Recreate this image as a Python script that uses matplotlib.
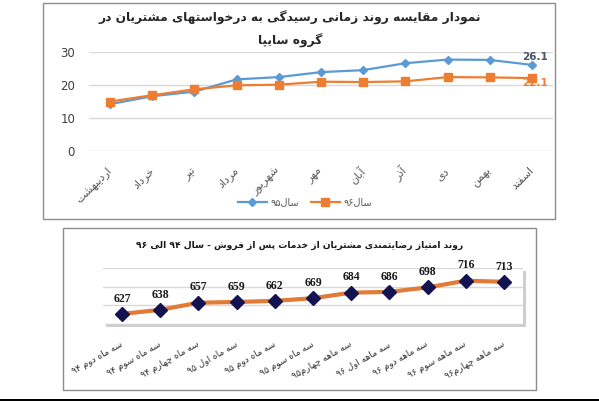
import re
import matplotlib
matplotlib.use('Agg')
import matplotlib.pyplot as plt
from matplotlib.patches import Rectangle
from matplotlib.lines import Line2D

# --- data ---------------------------------------------------------------
months = ['اردیبهشت', 'خرداد', 'تیر', 'مرداد', 'شهریور', 'مهر',
          'آبان', 'آذر', 'دی', 'بهمن', 'اسفند']
sal95 = [14.2, 16.6, 18.0, 21.7, 22.4, 23.9, 24.5, 26.6, 27.7, 27.6, 26.1]
sal96 = [15.0, 16.9, 18.7, 19.9, 20.1, 21.0, 20.9, 21.1, 22.4, 22.3, 22.1]

quarters = ['سه ماه دوم ۹۴', 'سه ماه سوم ۹۴', 'سه ماه چهارم ۹۴',
            'سه ماه اول ۹۵', 'سه ماه دوم ۹۵', 'سه ماه سوم ۹۵',
            'سه ماهه چهارم۹۵', 'سه ماهه اول ۹۶', 'سه ماهه دوم ۹۶',
            'سه ماهه سوم ۹۶', 'سه ماهه چهارم۹۶']
scores = [627, 638, 657, 659, 662, 669, 684, 686, 698, 716, 713]

title_top = ['نمودار مقایسه روند زمانی رسیدگی به درخواستهای مشتریان در',
             'گروه سایپا']
title_bottom = 'روند امتیاز رضایتمندی مشتریان از خدمات پس از فروش - سال ۹۴ الی ۹۶'
legend_labels = ['سال۹۵', 'سال۹۶']

# --- simple arabic/persian shaping (matplotlib has no shaping engine) ---
# letter -> (isolated form code point, number of forms)
_FORMS = {'ء': (0xFE80, 1), 'آ': (0xFE81, 2), 'أ': (0xFE83, 2), 'ؤ': (0xFE85, 2),
          'إ': (0xFE87, 2), 'ئ': (0xFE89, 4), 'ا': (0xFE8D, 2), 'ب': (0xFE8F, 4),
          'ة': (0xFE93, 2), 'ت': (0xFE95, 4), 'ث': (0xFE99, 4), 'ج': (0xFE9D, 4),
          'ح': (0xFEA1, 4), 'خ': (0xFEA5, 4), 'د': (0xFEA9, 2), 'ذ': (0xFEAB, 2),
          'ر': (0xFEAD, 2), 'ز': (0xFEAF, 2), 'س': (0xFEB1, 4), 'ش': (0xFEB5, 4),
          'ص': (0xFEB9, 4), 'ض': (0xFEBD, 4), 'ط': (0xFEC1, 4), 'ظ': (0xFEC5, 4),
          'ع': (0xFEC9, 4), 'غ': (0xFECD, 4), 'ف': (0xFED1, 4), 'ق': (0xFED5, 4),
          'ك': (0xFED9, 4), 'ل': (0xFEDD, 4), 'م': (0xFEE1, 4), 'ن': (0xFEE5, 4),
          'ه': (0xFEE9, 4), 'و': (0xFEED, 2), 'ى': (0xFEEF, 2), 'ي': (0xFEF1, 4),
          'پ': (0xFB56, 4), 'چ': (0xFB7A, 4), 'ژ': (0xFB8A, 2), 'ک': (0xFB8E, 4),
          'گ': (0xFB92, 4), 'ی': (0xFBFC, 4)}
_LAMALEF = {'آ': 0xFEF5, 'أ': 0xFEF7, 'إ': 0xFEF9, 'ا': 0xFEFB}


def _nforms(c):
    return _FORMS[c][1] if c in _FORMS else 0


def shape(word):
    out = []
    i = 0
    n = len(word)
    while i < n:
        c = word[i]
        if c not in _FORMS:
            if c != '\u200c':
                out.append(c)
            i += 1
            continue
        prev = word[i - 1] if i > 0 else ''
        joins_prev = _nforms(prev) == 4
        if c == 'ل' and i + 1 < n and word[i + 1] in _LAMALEF:
            base = _LAMALEF[word[i + 1]]
            out.append(chr(base + 1 if joins_prev else base))
            i += 2
            continue
        nxt = word[i + 1] if i + 1 < n else ''
        base, k = _FORMS[c]
        joins_next = k == 4 and _nforms(nxt) >= 2
        joins_prev = joins_prev and k >= 2
        if joins_prev and joins_next:
            out.append(chr(base + 3))
        elif joins_prev:
            out.append(chr(base + 1))
        elif joins_next:
            out.append(chr(base + 2))
        else:
            out.append(chr(base))
        i += 1
    return ''.join(out)


def rtl(text):
    s = shape(text)
    parts = re.findall(r'[0-9\u06F0-\u06F9.]+|[^0-9\u06F0-\u06F9.]+', s)
    parts = [p if re.match(r'[0-9\u06F0-\u06F9.]', p) else p[::-1] for p in parts]
    return ''.join(parts[::-1])


W, H = 599, 401


def fx(px):
    return px / W


def fy(py):
    return 1 - py / H


fig = plt.figure(figsize=(5.99, 4.01), dpi=100)
fig.patch.set_facecolor('white')

# frames
fig.patches.append(Rectangle((fx(43), fy(219)), fx(555) - fx(43), fy(3) - fy(219),
                             transform=fig.transFigure, fill=False,
                             edgecolor='#8c8c8c', lw=1))
fig.patches.append(Rectangle((fx(63), fy(390)), fx(536) - fx(63), fy(228) - fy(390),
                             transform=fig.transFigure, fill=False,
                             edgecolor='#8c8c8c', lw=1))
fig.patches.append(Rectangle((0, 0), 1, fy(399), transform=fig.transFigure,
                             color='black', lw=0))
# shadow of lower plot area
fig.patches.append(Rectangle((fx(105.5), fy(327)), fx(523) - fx(103), fy(268) - fy(324),
                             transform=fig.transFigure, color='#cfcfcf', lw=0,
                             zorder=-1))

# --- top chart ----------------------------------------------------------
gray = '#595959'
ax1 = fig.add_axes([fx(89), fy(151), fx(553) - fx(89), fy(52) - fy(151)])
x = list(range(len(months)))
ax1.plot(x, sal95, color='#5b9bd5', marker='D', ms=4, lw=1.6)
ax1.plot(x, sal96, color='#ed7d31', marker='s', ms=5.5, lw=1.6)
ax1.set_xlim(-0.5, len(months) - 0.5)
ax1.set_ylim(0, 30)
ax1.set_yticks([0, 10, 20, 30])
ax1.set_xticks(x)
ax1.set_xticklabels([rtl(m) for m in months], rotation=45, ha='right',
                    va='center', rotation_mode='anchor', fontsize=8, color=gray)
ax1.tick_params(axis='y', length=0, pad=10, labelsize=8.5, labelcolor='#404040')
ax1.tick_params(axis='x', length=0, pad=13)
ax1.grid(axis='y', color='#d9d9d9', lw=1)
ax1.set_axisbelow(True)
for sp in ax1.spines.values():
    sp.set_visible(False)
ax1.patch.set_alpha(0)

ax1.annotate(f'{sal95[-1]}', (x[-1], sal95[-1]), xytext=(2, 6),
             textcoords='offset points', ha='center', va='center',
             fontsize=7.5, fontweight='bold', color='#44546a')
ax1.annotate(f'{sal96[-1]}', (x[-1], sal96[-1]), xytext=(2, -3.5),
             textcoords='offset points', ha='center', va='center',
             fontsize=7.5, fontweight='bold', color='#ed7d31')

for i, line in enumerate(title_top):
    fig.text(fx(290), fy(18 + 23 * i), rtl(line), ha='center', va='center',
             fontsize=8.8, fontweight='bold', color='#262626')

handles = [Line2D([], [], color='#5b9bd5', marker='D', ms=4, lw=1.6),
           Line2D([], [], color='#ed7d31', marker='s', ms=5.5, lw=1.6)]
fig.legend(handles, [rtl(t) for t in legend_labels], loc='center',
           bbox_to_anchor=(fx(305), fy(202)), ncol=2, frameon=False,
           fontsize=7, labelcolor=gray, handlelength=3, columnspacing=1.2,
           handletextpad=0.4)

# --- bottom chart -------------------------------------------------------
ax2 = fig.add_axes([fx(103), fy(324), fx(523) - fx(103), fy(268) - fy(324)])
xq = list(range(len(quarters)))
ax2.plot(xq, scores, color='#e27b36', lw=3, marker='D', ms=7,
         mfc='#131352', mec='#131352', zorder=3)
ax2.set_xlim(-0.5, len(quarters) - 0.5)
ax2.set_ylim(600, 750)
ax2.set_yticks([600, 650, 700, 750])
ax2.set_yticklabels([])
ax2.set_xticks(xq)
ax2.set_xticklabels([rtl(q) for q in quarters], rotation=30, ha='right',
                    va='center', rotation_mode='anchor', fontsize=6.5,
                    color='#333333')
ax2.tick_params(length=0)
ax2.tick_params(axis='x', pad=14)
ax2.grid(axis='y', color='#d9d9d9', lw=1)
ax2.set_axisbelow(True)
ax2.set_facecolor('white')
for sp in ax2.spines.values():
    sp.set_visible(False)

for xi, v in zip(xq, scores):
    ax2.annotate(str(v), (xi, v), xytext=(0, 11), textcoords='offset points',
                 ha='center', va='center', fontsize=8.5, fontweight='bold',
                 family='Liberation Serif', color='#1a1a1a')

fig.text(fx(300), fy(245), rtl(title_bottom), ha='center', va='center',
         fontsize=6.6, fontweight='bold', color='#1a1a1a')

fig.savefig('out.png', dpi=100)
